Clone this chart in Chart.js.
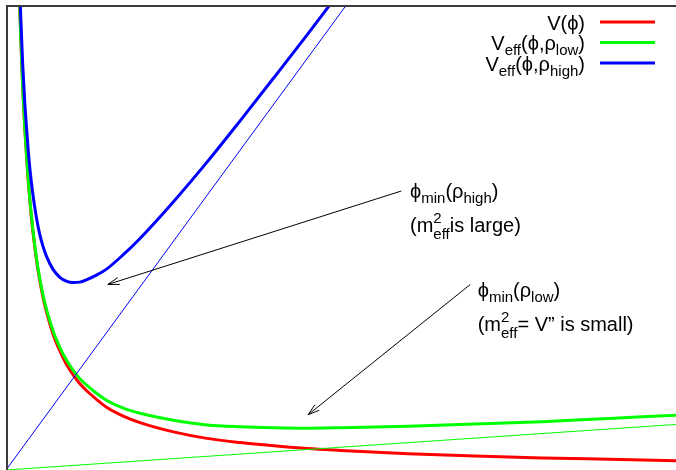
<!DOCTYPE html>
<html>
<head>
<meta charset="utf-8">
<script src="https://cdn.jsdelivr.net/npm/chart.js@4"></script>
<style>
  html, body { margin: 0; padding: 0; background: #fff; overflow: hidden; }
  canvas { display: block; }
</style>
</head>
<body>
<canvas id="myChart" width="676" height="470"></canvas>
<script>
// phi grid and read-off values of the potentials
const phi = [0.2, 0.22, 0.25, 0.28, 0.3, 0.33, 0.36, 0.4, 0.45, 0.5, 0.55, 0.6, 0.7, 0.8, 0.9, 1.0, 1.1, 1.2, 1.35, 1.5, 1.75, 2.0, 2.5, 3.0, 3.5, 4.0, 4.5, 5.0, 6.0, 7.0, 8.0, 9.0, 10.0]
const vBare = [10.2, 9.3, 8.2, 7.35, 6.9, 6.25, 5.72, 5.15, 4.57, 4.1, 3.73, 3.42, 2.93, 2.57, 2.28, 2.05, 1.86, 1.71, 1.52, 1.35, 1.16, 1.02, 0.82, 0.68, 0.59, 0.52, 0.46, 0.42, 0.35, 0.30, 0.26, 0.23, 0.20]
const vLow = [10.22, 9.32, 8.22, 7.38, 6.93, 6.28, 5.76, 5.19, 4.61, 4.15, 3.78, 3.48, 3.0, 2.65, 2.37, 2.15, 1.97, 1.83, 1.65, 1.50, 1.33, 1.22, 1.07, 0.97, 0.93, 0.91, 0.90, 0.91, 0.94, 0.99, 1.04, 1.11, 1.18]
const phiHigh = [0.2, 0.22, 0.25, 0.28, 0.3, 0.33, 0.36, 0.4, 0.45, 0.5, 0.55, 0.6, 0.7, 0.8, 0.9, 1.0, 1.1, 1.2, 1.35, 1.5, 1.75, 2.0, 2.5, 3.0, 3.5, 4.0, 4.5, 5.0]
const vHigh = [10.6, 9.74, 8.7, 7.9, 7.49, 6.9, 6.43, 5.94, 5.46, 5.09, 4.82, 4.61, 4.32, 4.15, 4.06, 4.03, 4.04, 4.09, 4.19, 4.32, 4.63, 4.98, 5.77, 6.62, 7.52, 8.44, 9.37, 10.32]
// the linear density terms rho*phi
const rhoLowLine = [[0, 0], [10, 0.98]]
const rhoHighLine = [[0, 0], [5.08, 10]]

const legendLabels = [
  [['n', 'V(ϕ)']],
  [['n', 'V'], ['sub', 'eff'], ['n', '(ϕ,ρ'], ['sub', 'low'], ['n', ')']],
  [['n', 'V'], ['sub', 'eff'], ['n', '(ϕ,ρ'], ['sub', 'high'], ['n', ')']]
]
const colors = ['#ff0000', '#00ff00', '#0000ff']

// annotations (data coordinates)
const arrowTail = [[5.9, 6.0], [6.93, 3.99]]
const arrowHead = [[1.52, 3.99], [4.51, 1.19]]
const noteAt = [[6.03, 5.84], [7.04, 3.73]]
const noteLines = [
  [
    [['n', 'ϕ'], ['sub', 'min'], ['n', '(ρ'], ['sub', 'high'], ['n', ')']],
    [['n', '(m'], ['stack', '2', 'eff'], ['n', 'is large)']]
  ],
  [
    [['n', 'ϕ'], ['sub', 'min'], ['n', '(ρ'], ['sub', 'low'], ['n', ')']],
    [['n', '(m'], ['stack', '2', 'eff'], ['n', '= V\u201D is small)']]
  ]
]

const FAMILY = '"Liberation Sans", Arial, sans-serif'
const BIG = 20, SMALL = 15

function segWidth(ctx, s) {
  if (s[0] == 'stack') {
    ctx.font = SMALL + 'px ' + FAMILY
    return Math.max(ctx.measureText(s[1]).width, ctx.measureText(s[2]).width)
  }
  ctx.font = (s[0] == 'n' ? BIG : SMALL) + 'px ' + FAMILY
  return ctx.measureText(s[1]).width
}

function drawRich(ctx, segs, x, y, align) {
  let w = 0
  segs.forEach(s => { w += segWidth(ctx, s) })
  if (align == 'right') x -= w
  ctx.textBaseline = 'alphabetic'
  ctx.textAlign = 'left'
  segs.forEach(s => {
    let sw = segWidth(ctx, s)
    if (s[0] == 'stack') {
      ctx.fillText(s[1], x, y - 9)
      ctx.fillText(s[2], x, y + 7)
    } else if (s[0] == 'sub') {
      ctx.fillText(s[1], x, y + 5)
    } else {
      ctx.fillText(s[1], x, y)
    }
    x += sw
  })
}

function toXY(xs, ys) {
  return xs.map((x, i) => ({ x: x, y: ys[i] }))
}

const decorations = {
  id: 'decorations',
  afterDatasetsDraw(chart) {
    const ctx = chart.ctx
    const a = chart.chartArea
    const sx = chart.scales.x, sy = chart.scales.y
    ctx.save()

    // frame (only left and top edges fall inside the picture)
    ctx.strokeStyle = '#3a3a3a'
    ctx.lineWidth = 2
    ctx.beginPath()
    ctx.moveTo(a.left + 1, a.bottom + 5)
    ctx.lineTo(a.left + 1, a.top + 1)
    ctx.lineTo(a.right + 5, a.top + 1)
    ctx.stroke()

    // legend
    ctx.fillStyle = '#000'
    legendLabels.forEach((segs, i) => {
      let ly = 22 + i * 20.5
      drawRich(ctx, segs, 585, ly + 7.5, 'right')
      ctx.strokeStyle = colors[i]
      ctx.lineWidth = 3
      ctx.beginPath()
      ctx.moveTo(600, ly)
      ctx.lineTo(655, ly)
      ctx.stroke()
    })

    // arrows
    ctx.strokeStyle = '#000'
    ctx.lineWidth = 1
    arrowTail.forEach((t, i) => {
      let x0 = sx.getPixelForValue(t[0]), y0 = sy.getPixelForValue(t[1])
      let x1 = sx.getPixelForValue(arrowHead[i][0]), y1 = sy.getPixelForValue(arrowHead[i][1])
      let ang = Math.atan2(y0 - y1, x0 - x1)
      let len = 12, spread = 0.3
      ctx.beginPath()
      ctx.moveTo(x0, y0)
      ctx.lineTo(x1, y1)
      ctx.moveTo(x1 + len * Math.cos(ang + spread), y1 + len * Math.sin(ang + spread))
      ctx.lineTo(x1, y1)
      ctx.lineTo(x1 + len * Math.cos(ang - spread), y1 + len * Math.sin(ang - spread))
      ctx.stroke()
    })

    // notes
    ctx.fillStyle = '#000'
    noteAt.forEach((p, i) => {
      let x = sx.getPixelForValue(p[0]), y = sy.getPixelForValue(p[1])
      noteLines[i].forEach((segs, j) => {
        drawRich(ctx, segs, x, y + j * 34, 'left')
      })
    })
    ctx.restore()
  }
}

let thick = { borderWidth: 3, pointRadius: 0, fill: false, cubicInterpolationMode: 'monotone' }
let thin = { borderWidth: 1, pointRadius: 0, fill: false, tension: 0 }

let datasets = [
  Object.assign({ label: 'V', data: toXY(phi, vBare), borderColor: colors[0], order: 5 }, thick),
  Object.assign({ label: 'Veff low', data: toXY(phi, vLow), borderColor: colors[1], order: 4 }, thick),
  Object.assign({ label: 'Veff high', data: toXY(phiHigh, vHigh), borderColor: colors[2], order: 3 }, thick),
  Object.assign({ label: 'rho low phi', data: rhoLowLine.map(p => ({ x: p[0], y: p[1] })), borderColor: colors[1], order: 2 }, thin),
  Object.assign({ label: 'rho high phi', data: rhoHighLine.map(p => ({ x: p[0], y: p[1] })), borderColor: colors[2], order: 1 }, thin)
]

let chart = new Chart(document.getElementById('myChart').getContext('2d'), {
  type: 'line',
  data: { datasets: datasets },
  options: {
    responsive: false,
    animation: false,
    devicePixelRatio: 1,
    layout: { padding: { left: 6, top: 5, right: 0, bottom: 0 } },
    plugins: { legend: { display: false }, tooltip: { enabled: false } },
    scales: {
      x: { type: 'linear', min: 0, max: 10, display: false },
      y: { type: 'linear', min: 0, max: 10, display: false }
    }
  },
  plugins: [decorations]
})
</script>
</body>
</html>
